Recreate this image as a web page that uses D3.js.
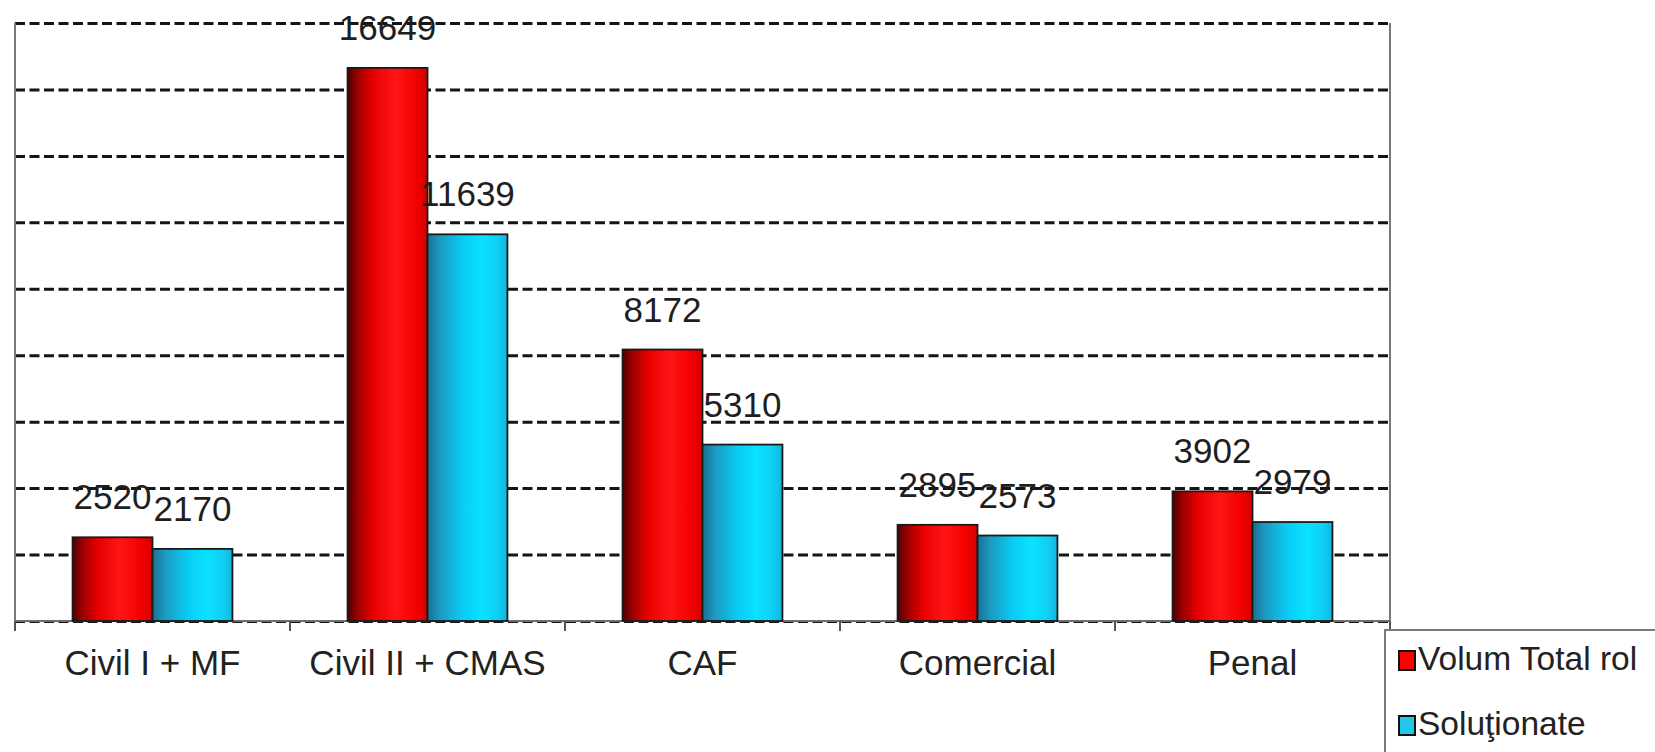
<!DOCTYPE html>
<html>
<head>
<meta charset="utf-8">
<script src="https://cdn.jsdelivr.net/npm/d3@7"></script>
<style>
  html, body { margin: 0; padding: 0; background: #fff; }
  svg { display: block; font-family: "Liberation Sans", Arial, sans-serif; }
</style>
</head>
<body>
<svg id="chart" width="1655" height="752"></svg>
<script>
const categories = ["Civil I + MF", "Civil II + CMAS", "CAF", "Comercial", "Penal"];
const seriesNames = ["Volum Total rol", "Soluţionate"];
const volumTotal = [2520, 16649, 8172, 2895, 3902];
const solutionate = [2170, 11639, 5310, 2573, 2979];
const yTicks = [0, 2000, 4000, 6000, 8000, 10000, 12000, 14000, 16000, 18000];

const seriesValues = [volumTotal, solutionate];
const rows = categories.map((c, i) => ({
  cat: c,
  vals: seriesNames.map((s, j) => ({ s, j, v: seriesValues[j][i] }))
}));

const svg = d3.select("#chart");
svg.append("rect").attr("width", 1655).attr("height", 752).attr("fill", "#fff");

const pLeft = 15, pRight = 1390, pTop = 23, pBottom = 621;

const x0 = d3.scaleBand().domain(categories).range([pLeft, pRight]).paddingInner(0).paddingOuter(0);
const x1 = d3.scaleBand().domain(seriesNames).range([0, x0.bandwidth()]).paddingInner(0).paddingOuter(0.72);
const y = d3.scaleLinear().domain([0, 18000]).range([pBottom, pTop]);

// gradients
const defs = svg.append("defs");
const gRed = defs.append("linearGradient").attr("id", "gRed").attr("x1", "0").attr("x2", "1").attr("y1", "0").attr("y2", "0");
[[0, "#4d0000"], [0.12, "#9a0000"], [0.32, "#e80000"], [0.6, "#ff1515"], [0.85, "#f40000"], [1, "#d40000"]]
  .forEach(([o, c]) => gRed.append("stop").attr("offset", o).attr("stop-color", c));
const gBlue = defs.append("linearGradient").attr("id", "gBlue").attr("x1", "0").attr("x2", "1").attr("y1", "0").attr("y2", "0");
[[0, "#1a6f8f"], [0.15, "#1c98c0"], [0.45, "#0acdf5"], [0.68, "#0ae2ff"], [0.88, "#10cff5"], [1, "#14b4dc"]]
  .forEach(([o, c]) => gBlue.append("stop").attr("offset", o).attr("stop-color", c));
const fills = ["url(#gRed)", "url(#gBlue)"];

// gridlines
const grid = svg.append("g").attr("transform", `translate(${pLeft},0)`)
  .call(d3.axisLeft(y).tickValues(yTicks).tickSize(-(pRight - pLeft)).tickFormat(""));
grid.select(".domain").remove();
grid.selectAll(".tick line")
  .attr("stroke", "#151515").attr("stroke-width", 3).attr("stroke-dasharray", "10,4.5");

// baseline
svg.append("line").attr("x1", pLeft).attr("x2", pRight).attr("y1", pBottom).attr("y2", pBottom)
  .attr("stroke", "#6e6e6e").attr("stroke-width", 2);

// left axis and right border
svg.append("line").attr("x1", pLeft).attr("x2", pLeft).attr("y1", pTop).attr("y2", pBottom + 10)
  .attr("stroke", "#7a7a7a").attr("stroke-width", 2);
svg.append("line").attr("x1", pRight).attr("x2", pRight).attr("y1", pTop).attr("y2", pBottom + 10)
  .attr("stroke", "#7a7a7a").attr("stroke-width", 2);

// category boundary ticks
const boundaries = categories.map(c => x0(c)).concat([x0.range()[1]]);
svg.append("g").selectAll("line").data(boundaries).join("line")
  .attr("x1", d => d).attr("x2", d => d).attr("y1", pBottom).attr("y2", pBottom + 10)
  .attr("stroke", "#555").attr("stroke-width", 2);

// x labels
const xa = svg.append("g").attr("transform", `translate(0,${pBottom})`)
  .call(d3.axisBottom(x0).tickSize(0).tickPadding(29));
xa.select(".domain").remove();
xa.selectAll("text").attr("font-size", 35).attr("fill", "#222")
  .attr("font-family", "'Liberation Sans', Arial, sans-serif");

// bars
const groups = svg.append("g").selectAll("g").data(rows).join("g")
  .attr("transform", d => `translate(${x0(d.cat)},0)`);
groups.selectAll("rect").data(d => d.vals).join("rect")
  .attr("x", d => x1(d.s))
  .attr("y", d => y(d.v))
  .attr("width", x1.bandwidth())
  .attr("height", d => y(0) - y(d.v))
  .attr("fill", d => fills[d.j])
  .attr("stroke", "#1a1a1a").attr("stroke-width", 1.8);

// value labels
groups.selectAll("text").data(d => d.vals).join("text")
  .attr("x", d => x1(d.s) + x1.bandwidth() / 2)
  .attr("y", d => y(d.v) - 28)
  .attr("text-anchor", "middle")
  .attr("font-size", 35).attr("fill", "#1e1e1e")
  .text(d => d.v);

// legend
const lg = svg.append("g");
lg.append("rect").attr("x", 1385).attr("y", 630).attr("width", 320).attr("height", 200)
  .attr("fill", "#fff").attr("stroke", "#7a7a7a").attr("stroke-width", 2);
const legendFill = ["#ff0000", "#22c8ea"];
const li = lg.selectAll("g").data(seriesNames).join("g")
  .attr("transform", (d, i) => `translate(1399,${670 + i * 65})`);
li.append("rect").attr("x", 0).attr("y", -19).attr("width", 16).attr("height", 19)
  .attr("fill", (d, i) => legendFill[i]).attr("stroke", "#111").attr("stroke-width", 2);
li.append("text").attr("x", 19).attr("y", 0).attr("font-size", 33.5).attr("fill", "#222").text(d => d);
</script>
</body>
</html>
